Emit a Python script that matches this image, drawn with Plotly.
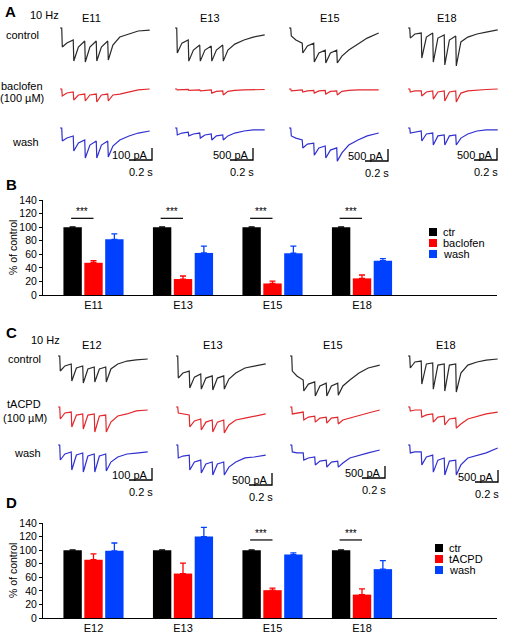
import plotly.graph_objects as go

W, H = 505, 634

# ---------------- data ----------------
# time points (s) at which each current trace was read (10 Hz, 5 pulses)
T = [0, 0.015, 0.02, 0.06, 0.115, 0.12, 0.16, 0.215, 0.22, 0.26, 0.315,
     0.32, 0.36, 0.415, 0.42, 0.46, 0.52, 0.6, 0.68, 0.78]

A_ages = ["E11", "E13", "E15", "E18"]
A_scale_pA = [100, 500, 500, 500]
# inward current amplitude (pA) at the times in T
A_control = [
    [0, 0, 158, 125, 100, 275, 158, 108, 283, 158, 108, 275, 158, 108, 267, 142, 75, 50, 25, 17],
    [0, 0, 1040, 630, 500, 1380, 920, 710, 1380, 920, 750, 1380, 920, 710, 1380, 920, 670, 500, 380, 290],
    [0, 0, 330, 500, 630, 1040, 750, 630, 1420, 1040, 920, 1460, 1040, 920, 1460, 1170, 920, 670, 420, 210],
    [0, 0, 420, 250, 210, 1250, 380, 210, 1420, 420, 290, 1540, 500, 330, 1580, 580, 380, 250, 170, 80],
]
A_baclofen = [
    [0, 0, 58, 33, 25, 92, 50, 42, 100, 50, 42, 108, 50, 42, 100, 50, 42, 25, 8, 0],
    [0, 0, 40, 20, 20, 60, 40, 40, 80, 60, 40, 170, 100, 80, 250, 100, 60, 40, 20, 20],
    [0, 0, 80, 60, 40, 125, 80, 60, 170, 80, 60, 210, 100, 80, 250, 100, 60, 40, 40, 40],
    [0, 0, 125, 80, 80, 290, 125, 80, 420, 125, 80, 500, 125, 80, 540, 170, 80, 40, 20, 0],
]
A_wash = [
    [0, 0, 108, 83, 67, 192, 125, 100, 250, 142, 108, 250, 142, 108, 242, 150, 100, 67, 42, 25],
    [0, 0, 290, 210, 170, 330, 250, 210, 420, 290, 250, 500, 330, 290, 500, 330, 210, 125, 80, 80],
    [0, 0, 330, 420, 500, 830, 670, 630, 1130, 830, 750, 1250, 920, 830, 1380, 1040, 710, 500, 330, 210],
    [0, 0, 210, 170, 125, 540, 250, 210, 710, 330, 290, 710, 330, 290, 710, 420, 250, 125, 80, 80],
]

C_ages = ["E12", "E13", "E15", "E18"]
C_scale_pA = [100, 500, 500, 500]
C_control = [
    [0, 0, 125, 83, 67, 208, 100, 83, 225, 108, 92, 217, 108, 92, 217, 108, 67, 42, 33, 25],
    [0, 0, 920, 710, 630, 1330, 880, 750, 1380, 920, 830, 1420, 920, 830, 1380, 960, 710, 500, 420, 330],
    [0, 0, 630, 830, 1000, 1460, 1170, 1080, 1670, 1250, 1130, 1670, 1250, 1130, 1630, 1250, 1000, 710, 500, 380],
    [0, 0, 500, 250, 210, 1170, 330, 290, 1380, 380, 330, 1460, 380, 330, 1500, 710, 380, 250, 170, 125],
]
C_tacpd = [
    [0, 0, 100, 50, 42, 167, 67, 58, 183, 67, 58, 208, 75, 67, 208, 125, 75, 58, 33, 25],
    [0, 0, 250, 290, 330, 830, 580, 500, 960, 630, 540, 1040, 630, 540, 1080, 750, 540, 460, 380, 290],
    [0, 0, 290, 250, 210, 540, 420, 380, 630, 460, 420, 670, 460, 420, 710, 540, 460, 330, 250, 125],
    [0, 0, 170, 125, 125, 420, 330, 290, 630, 420, 380, 750, 500, 460, 880, 710, 500, 380, 290, 210],
]
C_wash = [
    [0, 0, 125, 75, 58, 208, 83, 67, 225, 92, 75, 225, 92, 75, 217, 142, 100, 75, 67, 58],
    [0, 0, 540, 460, 420, 1040, 710, 630, 1170, 790, 710, 1250, 790, 710, 1250, 920, 710, 540, 500, 420],
    [0, 0, 290, 330, 330, 630, 540, 500, 830, 670, 630, 920, 710, 670, 920, 750, 540, 420, 330, 210],
    [0, 0, 330, 290, 290, 830, 500, 420, 1130, 630, 540, 1250, 670, 630, 1250, 830, 540, 420, 330, 125],
]
SCALE_T = 0.2  # s

# bar chart B
B_cats = ["E11", "E13", "E15", "E18"]
B_ctr = [100, 100, 100, 100]
B_ctr_err = [0.5, 0.5, 0.5, 0.5]
B_baclofen = [47.5, 23.5, 17, 24.5]
B_baclofen_err = [3, 4.5, 3.5, 5]
B_wash = [82, 62, 61.5, 50.5]
B_wash_err = [8, 10, 10.5, 3]
B_sig = [0, 1, 2, 3]

# bar chart D
D_cats = ["E12", "E13", "E15", "E18"]
D_ctr = [100, 100, 100, 100]
D_ctr_err = [0.5, 0.5, 0.5, 0.5]
D_tacpd = [86, 65.5, 41, 34.5]
D_tacpd_err = [8.5, 15.5, 3, 8.5]
D_wash = [99, 120, 93.5, 72]
D_wash_err = [11.5, 13.5, 2.5, 12.5]
D_sig = [2, 3]

Y_TICKS = [0, 20, 40, 60, 80, 100, 120, 140]

# ---------------- styles / layout constants ----------------
FONT = "Liberation Sans, Arial, Helvetica, sans-serif"
C_BLACK, C_RED, C_BLUE = "#2a2a2a", "#e2282c", "#3030d0"
BAR_BLACK, BAR_RED, BAR_BLUE = "#000000", "#ff0000", "#0040ff"
PX_PER_S = 115.0
PX_PER_BAR = 12.0

A_COL_X = [60, 175, 289, 408]
C_COL_X = [58, 176, 290, 408]
A_ROW_BASE = [28, 89, 128]
C_ROW_BASE = [356, 407, 445]
A_BAR_CORNER = [(152, 160), (253, 160), (388, 161), (497, 160)]
C_BAR_CORNER = [(152, 480), (272, 485), (385, 478), (498, 482)]

fig = go.Figure()
layout_axes = {}
annotations = []
shapes = []
counter = [0]


def new_axes(x0, x1, y0, y1, xr, yr, visible=False):
    counter[0] += 1
    n = counter[0]
    s = "" if n == 1 else str(n)
    layout_axes["xaxis" + s] = dict(domain=[x0 / W, x1 / W], range=xr, visible=visible,
                                   anchor="y" + s, fixedrange=True, showgrid=False,
                                   zeroline=False, automargin=False)
    layout_axes["yaxis" + s] = dict(domain=[1 - y1 / H, 1 - y0 / H], range=yr, visible=visible,
                                   anchor="x" + s, fixedrange=True, showgrid=False,
                                   zeroline=False, automargin=False)
    return "x" + s, "y" + s, s


def ann(text, x, y, size=11, xanchor="center", yanchor="middle", bold=False, angle=0):
    annotations.append(dict(text=("<b>%s</b>" % text) if bold else text, x=x / W, y=1 - y / H,
                            xref="paper", yref="paper", showarrow=False, xanchor=xanchor,
                            yanchor=yanchor, textangle=angle,
                            font=dict(size=size, family=FONT, color="black")))


def trace_panel(x0, base, scale, values, color):
    xw = min(100, W - 1 - x0)
    xr = [0, xw / PX_PER_S]
    yr = [-45 * scale / PX_PER_BAR, 3 * scale / PX_PER_BAR]
    xa, ya, _ = new_axes(x0, x0 + xw, base - 3, base + 45, xr, yr)
    fig.add_trace(go.Scatter(x=T, y=[-v for v in values], mode="lines",
                             line=dict(color=color, width=1.2), xaxis=xa, yaxis=ya,
                             showlegend=False, hoverinfo="skip"))
    return xa, ya


def scale_bar(xa, ya, x0, base, scale, corner):
    cx, cy = corner
    t = (cx - x0) / PX_PER_S
    y = -(cy - base) * scale / PX_PER_BAR
    fig.add_trace(go.Scatter(x=[t - SCALE_T, t, t], y=[y, y, y + scale], mode="lines",
                             line=dict(color="black", width=1.3), xaxis=xa, yaxis=ya,
                             showlegend=False, hoverinfo="skip"))
    ann("%d pA" % scale, cx - 2, cy - 5.5, xanchor="right")
    ann("%.1f s" % SCALE_T, cx - SCALE_T * PX_PER_S / 2, cy + 12)


def trace_section(col_x, row_base, scales, rows, colors, corners):
    for c in range(4):
        for r in range(3):
            xa, ya = trace_panel(col_x[c], row_base[r], scales[c], rows[r][c], colors[r])
        scale_bar(xa, ya, col_x[c], row_base[2], scales[c], corners[c])


trace_section(A_COL_X, A_ROW_BASE, A_scale_pA, [A_control, A_baclofen, A_wash],
              [C_BLACK, C_RED, C_BLUE], A_BAR_CORNER)
trace_section(C_COL_X, C_ROW_BASE, C_scale_pA, [C_control, C_tacpd, C_wash],
              [C_BLACK, C_RED, C_BLUE], C_BAR_CORNER)

# ---------------- bar charts ----------------
GROUP_PX0, GROUP_DPX = 93.5, 89.5
AX_X0, AX_X1 = 43, 497
XR = [(AX_X0 - GROUP_PX0) / GROUP_DPX, (AX_X1 - GROUP_PX0) / GROUP_DPX]


def bar_panel(y0, y1, cats, series, sig, sig_y, legend_x, legend_y):
    xa, ya, s = new_axes(AX_X0, AX_X1, y0, y1, XR, [0, 140], visible=True)
    layout_axes["xaxis" + s].update(showline=True, linecolor="black", linewidth=1,
                                    tickvals=list(range(len(cats))), ticktext=cats, ticks="",
                                    tickfont=dict(size=11, family=FONT, color="black"))
    layout_axes["yaxis" + s].update(showline=True, linecolor="black", linewidth=1,
                                    tickvals=Y_TICKS, ticks="outside", ticklen=3, tickwidth=1,
                                    tickcolor="black",
                                    tickfont=dict(size=10.5, family=FONT, color="black"))
    for name, vals, errs, col in series:
        fig.add_trace(go.Bar(x=list(range(len(cats))), y=vals, name=name,
                             marker=dict(color=col, line=dict(width=0)),
                             error_y=dict(type="data", array=errs, arrayminus=[0] * len(errs),
                                          symmetric=False, color=col, thickness=1.3, width=3),
                             xaxis=xa, yaxis=ya, showlegend=False, hoverinfo="skip"))
    for g in sig:
        shapes.append(dict(type="line", xref=xa, yref=ya, x0=g - 0.25, x1=g, y0=sig_y, y1=sig_y,
                           line=dict(color="black", width=1.2)))
        annotations.append(dict(text="***", x=g - 0.125, y=sig_y, xref=xa, yref=ya,
                                showarrow=False, yanchor="bottom", yshift=-1,
                                font=dict(size=10, family=FONT, color="black")))
    ann("% of control", 12.5, (y0 + y1) / 2, size=10.5, angle=-90)
    for i, (name, vals, errs, col) in enumerate(series):
        cy = legend_y + 11 * i
        shapes.append(dict(type="rect", xref="paper", yref="paper",
                           x0=legend_x / W, x1=(legend_x + 8) / W,
                           y0=1 - (cy + 4) / H, y1=1 - (cy - 4) / H,
                           fillcolor=col, line=dict(width=0)))
        ann(name, legend_x + 12, cy, xanchor="left")


bar_panel(200, 295, B_cats,
          [("ctr", B_ctr, B_ctr_err, BAR_BLACK), ("baclofen", B_baclofen, B_baclofen_err, BAR_RED),
           ("wash", B_wash, B_wash_err, BAR_BLUE)],
          B_sig, 113, 429, 232)
bar_panel(523, 618, D_cats,
          [("ctr", D_ctr, D_ctr_err, BAR_BLACK), ("tACPD", D_tacpd, D_tacpd_err, BAR_RED),
           ("wash", D_wash, D_wash_err, BAR_BLUE)],
          D_sig, 115, 435, 548)

# ---------------- text labels ----------------
for letter, x, y in [("A", 10, 11), ("B", 11, 185), ("C", 11, 333), ("D", 11, 502)]:
    ann(letter, x, y, size=15, bold=True)
ann("10 Hz", 44, 15)
ann("10 Hz", 45, 340)
for name, x in zip(A_ages, [91, 210, 330, 447]):
    ann(name, x, 18)
for name, x in zip(C_ages, [92, 213, 333, 446]):
    ann(name, x, 345)
ann("control", 22, 35)
ann("baclofen", 22, 86)
ann("(100 µM)", 22, 98)
ann("wash", 25, 142)
ann("control", 24, 359)
ann("tACPD", 24, 404)
ann("(100 µM)", 25, 418)
ann("wash", 27, 453)

fig.update_layout(width=W, height=H, margin=dict(l=0, r=0, t=0, b=0, autoexpand=False),
                  paper_bgcolor="white", plot_bgcolor="rgba(0,0,0,0)",
                  barmode="group", bargap=0.3, bargroupgap=0.12,
                  font=dict(family=FONT, size=11, color="black"),
                  annotations=annotations, shapes=shapes, showlegend=False, **layout_axes)
fig.write_html("out.html", config={"displayModeBar": False},
               post_script="document.body.style.margin='0';document.body.style.overflow='hidden';")
